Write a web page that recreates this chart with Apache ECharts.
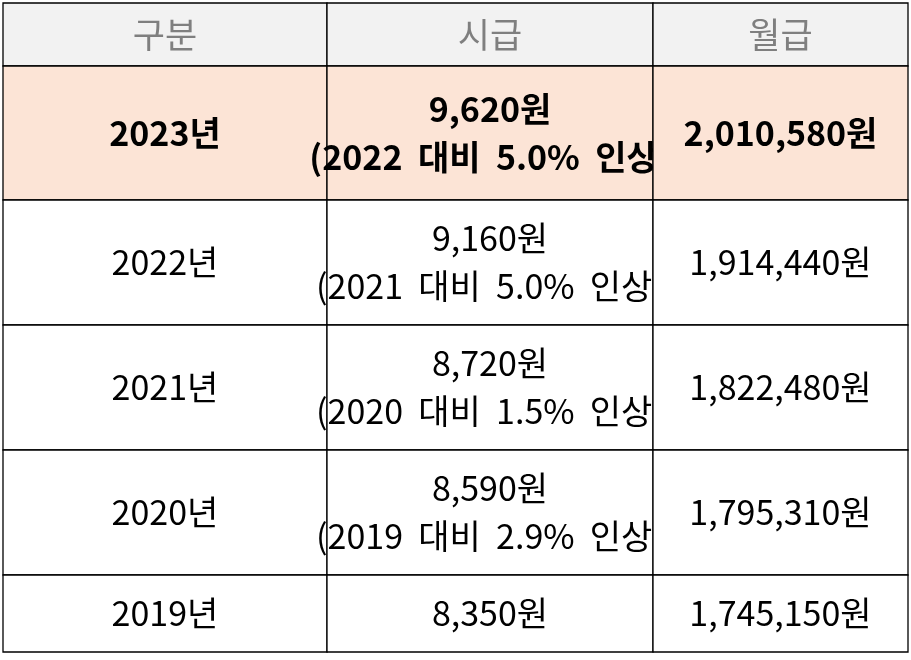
<!DOCTYPE html>
<html><head><meta charset="utf-8">
<script src="https://cdn.jsdelivr.net/npm/echarts@6/dist/echarts.min.js"></script>
<style>html,body{margin:0;padding:0;background:#fff}#c{width:911px;height:660px}</style>
</head><body><div id="c"></div>
<script>
const headers = ['구분', '시급', '월급'];
const years = ['2023년', '2022년', '2021년', '2020년', '2019년'];
const hourly = ['9,620원\n(2022  대비  5.0%  인상)', '9,160원\n(2021  대비  5.0%  인상)', '8,720원\n(2020  대비  1.5%  인상)', '8,590원\n(2019  대비  2.9%  인상)', '8,350원'];
const monthly = ['2,010,580원', '1,914,440원', '1,822,480원', '1,795,310원', '1,745,150원'];
const colEdges = [0, 324, 650, 905];
const rowEdges = [0, 63, 197, 322, 447, 572, 649];

const cells = [];
headers.forEach((h, c) => cells.push([c, 0, h]));
years.forEach((y, i) => {
  cells.push([0, i + 1, y]);
  cells.push([1, i + 1, hourly[i]]);
  cells.push([2, i + 1, monthly[i]]);
});

const chart = echarts.init(document.getElementById('c'));
chart.setOption({
  animation: false,
  grid: {left: 3, top: 3, width: 905, height: 649},
  xAxis: {type: 'value', min: 0, max: 905, show: false},
  yAxis: {type: 'value', min: 0, max: 649, inverse: true, show: false},
  series: [{
    type: 'custom',
    data: cells,
    renderItem: function (params, api) {
      const c = api.value(0), r = api.value(1);
      const p0 = api.coord([colEdges[c], rowEdges[r]]);
      const p1 = api.coord([colEdges[c + 1], rowEdges[r + 1]]);
      const fill = r === 0 ? '#f2f2f2' : (r === 1 ? '#fce4d6' : '#ffffff');
      const color = r === 0 ? '#7f7f7f' : '#000000';
      return {
        type: 'group',
        children: [{
          type: 'rect',
          shape: {x: p0[0], y: p0[1], width: p1[0] - p0[0], height: p1[1] - p0[1]},
          style: {fill: fill, stroke: '#000', lineWidth: 1.3}
        }, {
          type: 'text',
          style: {
            x: (p0[0] + p1[0]) / 2, y: (p0[1] + p1[1]) / 2,
            text: cells[params.dataIndex][2],
            align: 'center', verticalAlign: 'middle',
            fontFamily: 'Noto Sans CJK KR', fontSize: r === 0 ? 35 : 34,
            fontWeight: r === 1 ? 'bold' : 'normal',
            lineHeight: 48, fill: color
          }
        }]
      };
    }
  }]
});
</script></body></html>
